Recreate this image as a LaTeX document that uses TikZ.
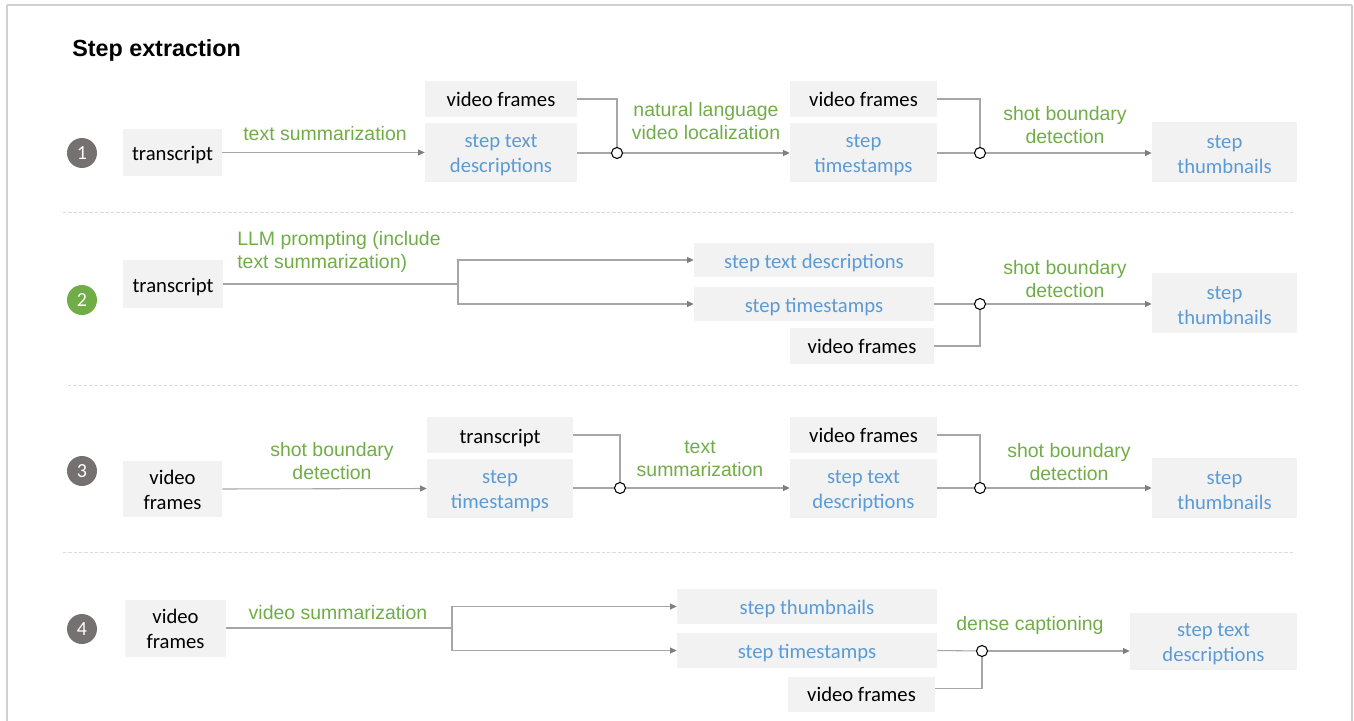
\documentclass[tikz,border=0pt]{standalone}
\usepackage{fontspec}
\setmainfont{Carlito}
\newfontfamily\arialf{Liberation Sans}
\usetikzlibrary{arrows.meta,calc}
\definecolor{boxfill}{HTML}{F2F2F2}
\definecolor{lgreen}{HTML}{70AD47}
\definecolor{lblue}{HTML}{5B9BD5}
\definecolor{cgray}{HTML}{767171}
\definecolor{linegray}{HTML}{A6A6A6}
\definecolor{tipgray}{HTML}{7F7F7F}
\definecolor{framegray}{HTML}{D0D0D0}
\definecolor{sepgray}{HTML}{DADADA}
\newcommand\bx[8][-2.2pt]{\node[box, minimum width={(#5-#3)*0.75pt}, minimum height={(#6-#4)*0.75pt}] (#2) at ({(#3+#5)/2},{(#4+#6)/2}) {};
  \node[boxtext, text=#7] (#2t) at ([yshift=#1]#2.center) {#8};}
\tikzset{
  box/.style={fill=boxfill, draw=none, inner sep=0pt},
  boxtext/.style={inner sep=0pt, align=center, font=\fontsize{15.5}{18.75}\selectfont},
  lbl/.style={text=lgreen, inner sep=0pt, font=\arialf\fontsize{14.6}{17.25}\selectfont},
  num/.style={circle, fill=#1, text=white, minimum size=22.5pt, inner sep=0pt, font=\fontsize{15}{15}\selectfont},
  junc/.style={circle, draw=black, fill=white, line width=0.8pt, minimum size=8.25pt, inner sep=0pt},
  conn/.style={draw=linegray, line width=0.8pt},
  arr/.style={conn, -{Triangle[length=5pt,width=4.5pt,color=tipgray]}},
  sep/.style={draw=sepgray, line width=0.7pt, dash pattern=on 2.5pt off 1.5pt}
}
\begin{document}
\begin{tikzpicture}[x=0.75pt,y=-0.75pt]
\useasboundingbox (0,0) rectangle (1354,721);
\draw[framegray, line width=0.8pt] (7,5) -- (1352,5) (7,5) -- (7,740) (1352,5) -- (1352,740);
\node[anchor=west, inner sep=0pt, font=\arialf\bfseries\fontsize{17.5}{20}\selectfont] (title) at (72,50) {Step extraction};

% separators
\coordinate (s1a) at (63,212); \coordinate (s1b) at (1295,212);
\coordinate (s2a) at (68,385); \coordinate (s2b) at (1300,385);
\coordinate (s3a) at (63,552); \coordinate (s3b) at (1295,552);
\draw[sep] (s1a) -- (s1b);
\draw[sep] (s2a) -- (s2b);
\draw[sep] (s3a) -- (s3b);

% ---------- Row 1
\node[num=cgray] (c1) at (82,153) {1};
\bx{t1}{123}{129}{222}{176}{black}{transcript}
\bx[0pt]{vf1a}{425}{81}{577}{117}{black}{video frames}
\bx{std1}{425}{123}{577}{182}{lblue}{step text\\descriptions}
\node[junc] (j1a) at (617,153) {};
\bx[0pt]{vf1b}{790}{81}{937}{117}{black}{video frames}
\bx{ts1}{790}{123}{937}{182}{lblue}{step\\timestamps}
\node[junc] (j1b) at (980,153) {};
\bx{th1}{1152}{122}{1297}{182}{lblue}{step\\thumbnails}
\draw[arr] (t1.east) -- (t1.east -| std1.west);
\draw[conn] (vf1a.east) -| (j1a);
\draw[conn] (std1.east |- j1a) -- (j1a);
\draw[arr] (j1a) -- (j1a -| ts1.west);
\draw[conn] (vf1b.east) -| (j1b);
\draw[conn] (ts1.east |- j1b) -- (j1b);
\draw[arr] (j1b) -- (j1b -| th1.west);
\node[lbl] (l1a) at (325,134) {text summarization};
\node[lbl, align=center] (l1b) at (706,121) {natural language\\video localization};
\node[lbl, align=center] (l1c) at (1065,125) {shot boundary\\detection};

% ---------- Row 2
\node[num=lgreen] (c2) at (82,300) {2};
\bx{t2}{123}{260}{223}{308}{black}{transcript}
\coordinate (co2) at (458,284);
\bx{std2}{694}{243}{934}{277}{lblue}{step text descriptions}
\bx{ts2}{694}{287}{934}{321}{lblue}{step timestamps}
\node[junc] (j2) at (980,304) {};
\bx[0pt]{vf2}{790}{328}{934}{364}{black}{video frames}
\bx{th2}{1152}{273}{1297}{333}{lblue}{step\\thumbnails}
\draw[conn] (t2.east) -- (co2);
\draw[arr] (co2) |- (std2.west);
\draw[arr] (co2) |- (ts2.west);
\draw[conn] (ts2.east) -- (j2);
\draw[conn] (vf2.east) -| (j2);
\draw[arr] (j2) -- (j2 -| th2.west);
\node[lbl, align=left, anchor=west] (l2a) at (237,252) {LLM prompting (include\\text summarization)};
\node[lbl, align=center] (l2b) at (1065,279) {shot boundary\\detection};

% ---------- Row 3
\node[num=cgray] (c3) at (82,471) {3};
\bx[-0.4pt]{vf3a}{123}{461}{222}{517}{black}{video\\frames}
\bx{tr3}{427}{417}{573}{453}{black}{transcript}
\bx{ts3}{427}{459}{573}{518}{lblue}{step\\timestamps}
\node[junc] (j3a) at (620,488) {};
\bx[0pt]{vf3b}{790}{417}{937}{453}{black}{video frames}
\bx{std3}{790}{459}{937}{518}{lblue}{step text\\descriptions}
\node[junc] (j3b) at (980,488) {};
\bx{th3}{1152}{458}{1297}{518}{lblue}{step\\thumbnails}
\draw[arr] (vf3a.east) -- (ts3.west);
\draw[conn] (tr3.east) -| (j3a);
\draw[conn] (ts3.east |- j3a) -- (j3a);
\draw[arr] (j3a) -- (j3a -| std3.west);
\draw[conn] (vf3b.east) -| (j3b);
\draw[conn] (std3.east |- j3b) -- (j3b);
\draw[arr] (j3b) -- (j3b -| th3.west);
\node[lbl, align=center] (l3a) at (332,461) {shot boundary\\detection};
\node[lbl, align=center] (l3b) at (700,459) {text\\summarization};
\node[lbl, align=center] (l3c) at (1069,462) {shot boundary\\detection};

% ---------- Row 4
\node[num=cgray] (c4) at (82,629) {4};
\bx[-0.4pt]{vf4}{125}{600}{226}{657}{black}{video\\frames}
\coordinate (co4) at (452,628);
\bx{thb4}{677}{589}{937}{624}{lblue}{step thumbnails}
\bx{ts4}{677}{633}{937}{668}{lblue}{step timestamps}
\node[junc] (j4) at (982,651) {};
\bx[0pt]{vf4b}{788}{677}{935}{712}{black}{video frames}
\bx{std4}{1130}{613}{1297}{670}{lblue}{step text\\descriptions}
\draw[conn] (vf4.east |- co4) -- (co4);
\draw[arr] (co4) |- (thb4.west);
\draw[arr] (co4) |- (ts4.west);
\draw[conn] (ts4.east) -- (j4);
\draw[conn] ($(vf4b.east)+(0,-6)$) -| (j4);
\draw[arr] (j4) -- (j4 -| std4.west);
\node[lbl] (l4a) at (338,613) {video summarization};
\node[lbl] (l4b) at (1030,625) {dense captioning};
\end{tikzpicture}
\end{document}
